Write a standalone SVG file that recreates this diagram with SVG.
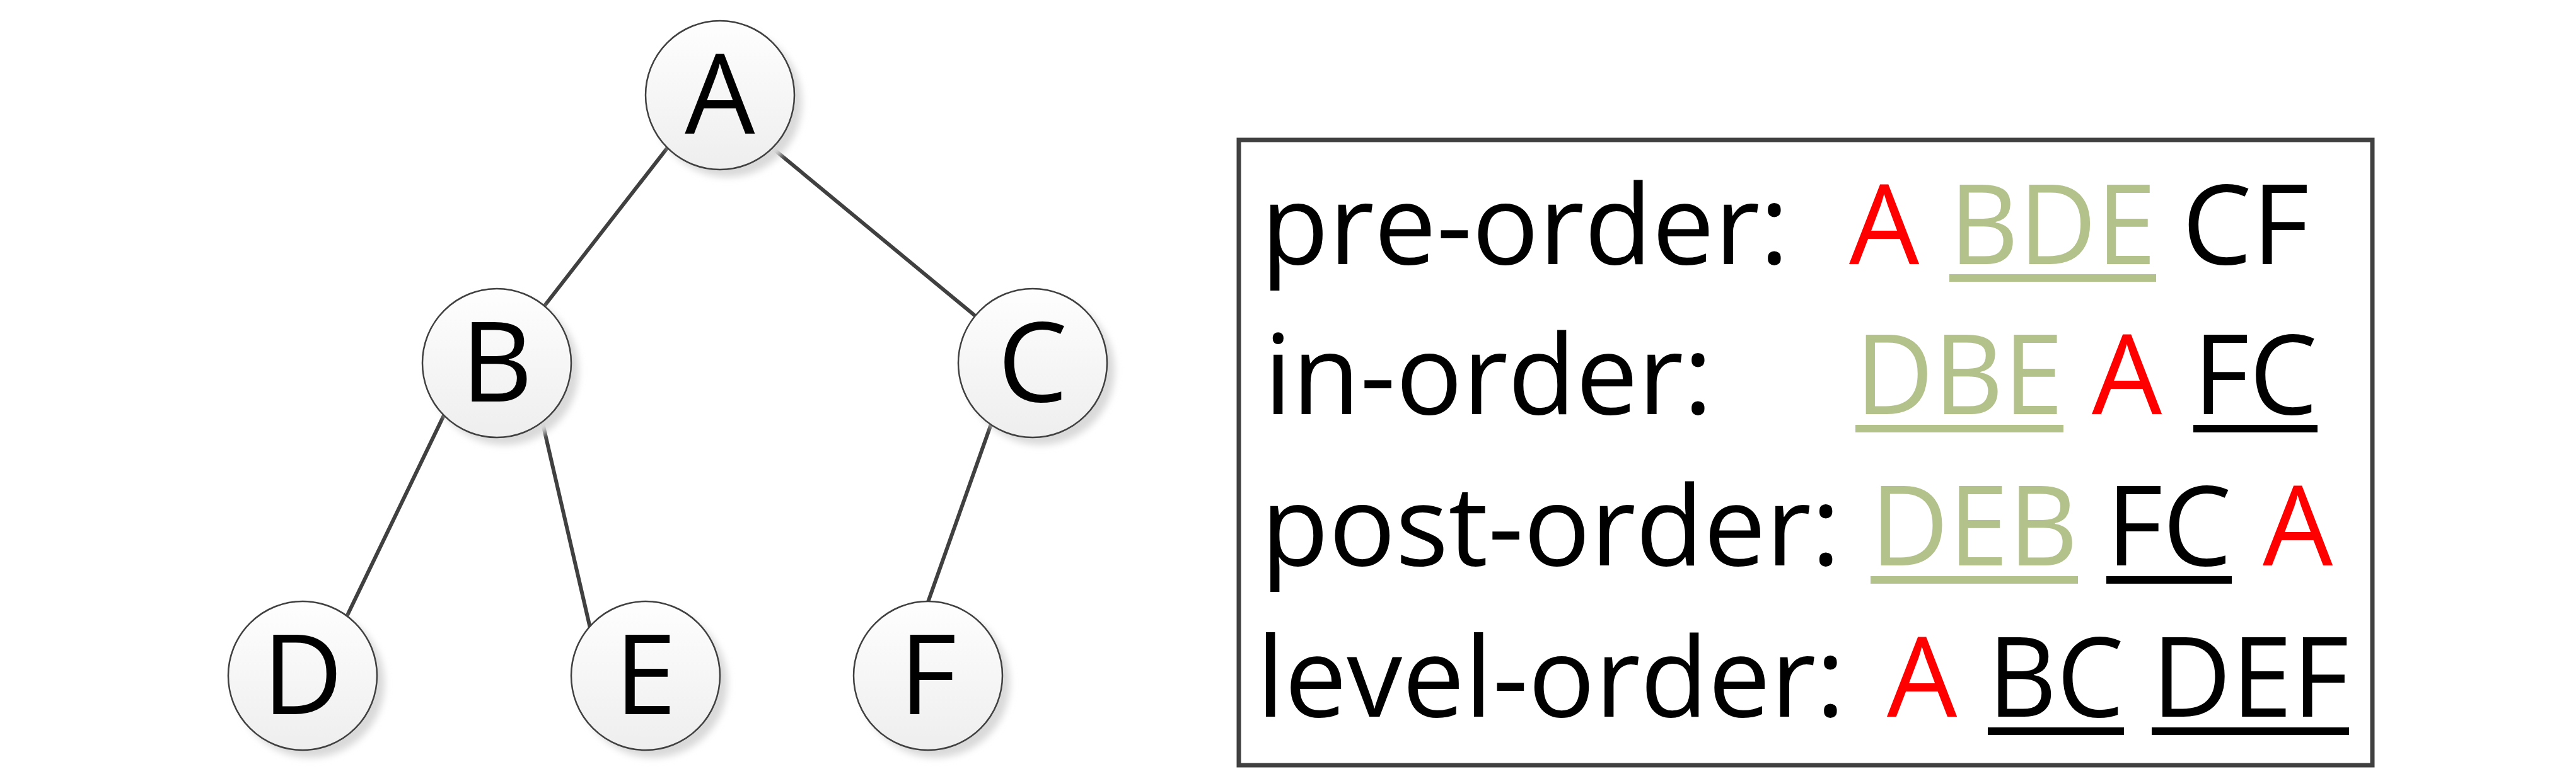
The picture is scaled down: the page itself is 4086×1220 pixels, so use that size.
<svg xmlns="http://www.w3.org/2000/svg" width="4086" height="1220" viewBox="0 0 4086 1220">
<defs>
<linearGradient id="nodeFill" x1="0" y1="0" x2="0" y2="1">
<stop offset="0" stop-color="#fefefe"/>
<stop offset="1" stop-color="#eeeeee"/>
</linearGradient>
<filter id="shadowBlur" x="-20%" y="-20%" width="140%" height="140%">
<feGaussianBlur stdDeviation="6"/>
</filter>
<style>
.shadow{fill:#d9d9d9;filter:url(#shadowBlur);}
.node{fill:url(#nodeFill);stroke:#404040;stroke-width:2.5;}
.nlabel{font-family:"Open Sans","Noto Sans","Liberation Sans",sans-serif;font-size:176px;fill:#000;text-anchor:middle;}
.edge{stroke:#404040;stroke-width:6;stroke-linecap:round;fill:none;}
.box{fill:#fff;stroke:#404040;stroke-width:7;}
.t{font-family:"Open Sans","Noto Sans","Liberation Sans",sans-serif;font-size:176px;fill:#000;}
.red{fill:#ff0000;}
.green{fill:#b3c18b;}
.ul{stroke-width:12;}
.ulg{stroke:#b3c18b;}
.ulk{stroke:#000;}
</style>
</defs>
<rect width="4086" height="1220" fill="#fff"/>
<g id="connectors">
<line class="edge" x1="1059" y1="234" x2="863" y2="486"/>
<line class="edge" x1="1224" y1="234" x2="1548" y2="502"/>
<line class="edge" x1="704" y1="659" x2="550" y2="978"/>
<line class="edge" x1="860" y1="668" x2="936" y2="996"/>
<line class="edge" x1="1572" y1="673" x2="1472" y2="955"/>
</g>
<g id="node-A">
<circle class="shadow" cx="1154" cy="163" r="118"/>
<circle class="node" cx="1142" cy="151" r="118"/>
<text class="nlabel" x="1142" y="212">A</text>
</g>
<g id="node-B">
<circle class="shadow" cx="800" cy="588" r="118"/>
<circle class="node" cx="788" cy="576" r="118"/>
<text class="nlabel" x="788" y="637">B</text>
</g>
<g id="node-C">
<circle class="shadow" cx="1650" cy="588" r="118"/>
<circle class="node" cx="1638" cy="576" r="118"/>
<text class="nlabel" x="1638" y="637">C</text>
</g>
<g id="node-D">
<circle class="shadow" cx="492" cy="1084" r="118"/>
<circle class="node" cx="480" cy="1072" r="118"/>
<text class="nlabel" x="480" y="1133">D</text>
</g>
<g id="node-E">
<circle class="shadow" cx="1036" cy="1084" r="118"/>
<circle class="node" cx="1024" cy="1072" r="118"/>
<text class="nlabel" x="1024" y="1133">E</text>
</g>
<g id="node-F">
<circle class="shadow" cx="1484" cy="1084" r="118"/>
<circle class="node" cx="1472" cy="1072" r="118"/>
<text class="nlabel" x="1472" y="1133">F</text>
</g>
<g id="traversals">
<rect class="box" x="1965" y="222" width="1798" height="992"/>
<text class="t" x="2000" y="419">pre-order:</text>
<text class="t red" x="2933" y="419">A</text>
<text class="t green" x="3092" y="419" textLength="328" lengthAdjust="spacingAndGlyphs">BDE</text>
<text class="t" x="3461" y="419">CF</text>
<line class="ul ulg" x1="3092" y1="441" x2="3420" y2="441"/>

<text class="t" x="2005" y="657">in-order:</text>
<text class="t green" x="2943" y="657" textLength="330" lengthAdjust="spacingAndGlyphs">DBE</text>
<text class="t red" x="3318" y="657">A</text>
<text class="t" x="3479" y="657" textLength="197" lengthAdjust="spacingAndGlyphs">FC</text>
<line class="ul ulg" x1="2943" y1="680" x2="3273" y2="680"/>
<line class="ul ulk" x1="3479" y1="680" x2="3676" y2="680"/>

<text class="t" x="2000" y="897">post-order:</text>
<text class="t green" x="2967" y="897" textLength="329" lengthAdjust="spacingAndGlyphs">DEB</text>
<text class="t" x="3341" y="897" textLength="199" lengthAdjust="spacingAndGlyphs">FC</text>
<text class="t red" x="3589" y="897">A</text>
<line class="ul ulg" x1="2967" y1="920" x2="3296" y2="920"/>
<line class="ul ulk" x1="3341" y1="920" x2="3540" y2="920"/>

<text class="t" x="1993" y="1137">level-order:</text>
<text class="t red" x="2993" y="1137">A</text>
<text class="t" x="3153" y="1137" textLength="216" lengthAdjust="spacingAndGlyphs">BC</text>
<text class="t" x="3413" y="1137" textLength="313" lengthAdjust="spacingAndGlyphs">DEF</text>
<line class="ul ulk" x1="3153" y1="1160" x2="3369" y2="1160"/>
<line class="ul ulk" x1="3413" y1="1160" x2="3726" y2="1160"/>
</g>
</svg>
